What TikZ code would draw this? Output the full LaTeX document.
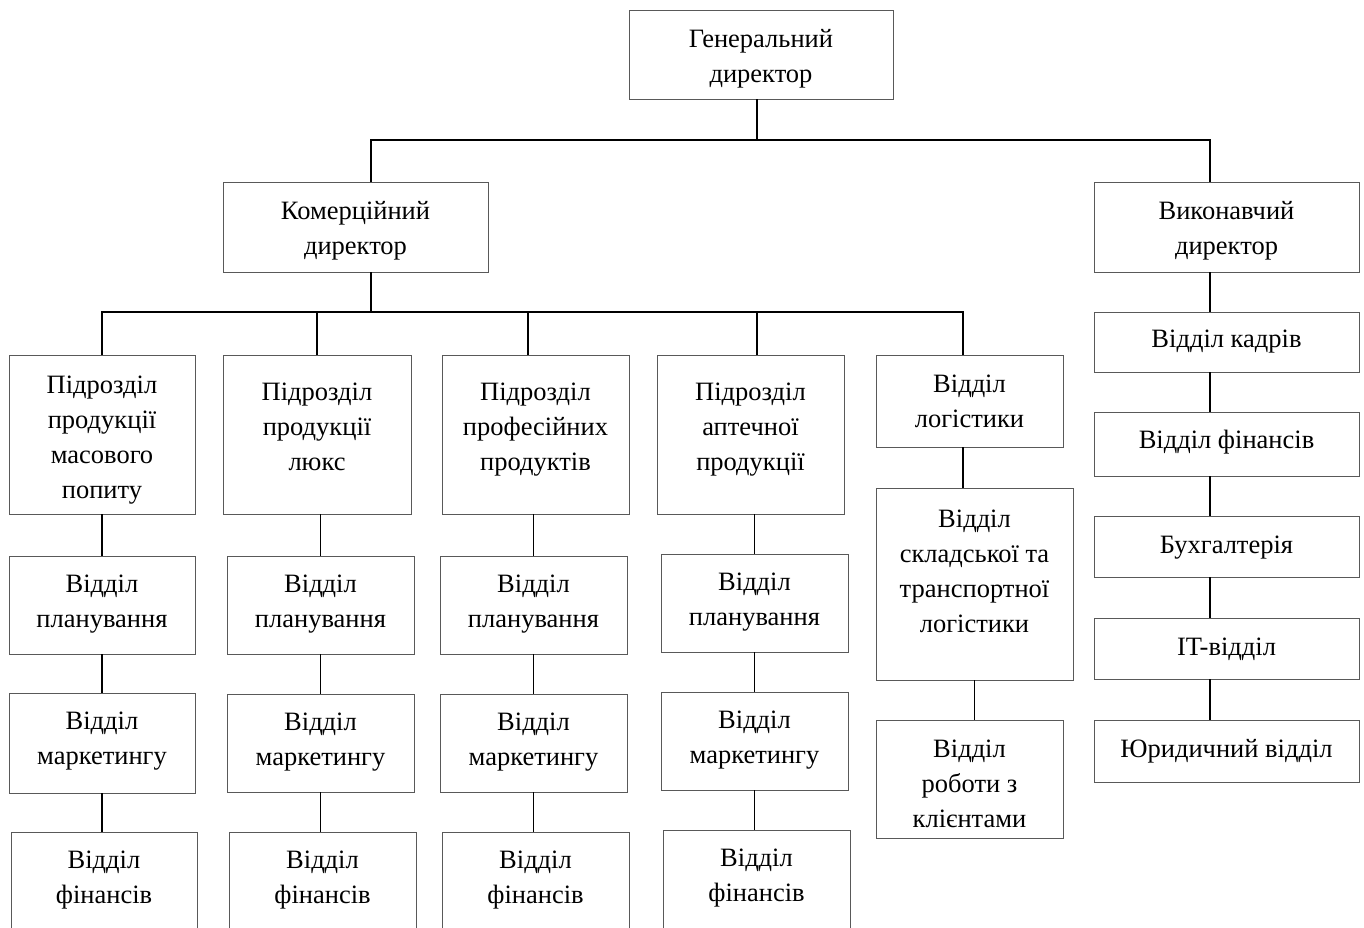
\documentclass[tikz,border=0pt]{standalone}
\usepackage{fontspec}
\setmainfont{Liberation Serif}
\tikzset{
  obox/.style={draw=black!65, line width=1pt, rectangle, inner sep=0pt, outer sep=0pt},
  lbl/.style={inner sep=0pt, outer sep=0pt, align=center, font=\fontsize{26.5}{35}\selectfont},
  conn/.style={draw=black, line width=1.5pt}
}
\newcommand\orgbox[7]{%
  \node[obox, minimum width={(#4-#2)*1pt}, minimum height={(#5-#3)*1pt}] (#1) at ({(#2+#4)/2},{(#3+#5)/2}) {};
  \node[lbl, anchor=north] (#1t) at ([yshift={-(#6-26)*1pt}]#1.north) {\rule{0pt}{26pt}#7};
}
\begin{document}
\begin{tikzpicture}[x=1pt, y=-1pt]
\useasboundingbox (0,0) rectangle (1364,927);
\clip (0,0) rectangle (1364,927);
\fill[white] (0,0) rectangle (1364,927);

\orgbox{gen}{629}{10}{893}{99}{37}{Генеральний\\директор}
\orgbox{kom}{223}{182}{488}{272}{37}{Комерційний\\директор}
\orgbox{vyk}{1094}{182}{1359}{272}{37}{Виконавчий\\директор}

\orgbox{p1}{9}{355}{195}{514}{38}{Підрозділ\\продукції\\масового\\попиту}
\orgbox{p2}{223}{355}{411}{514}{45}{Підрозділ\\продукції\\люкс}
\orgbox{p3}{442}{355}{629}{514}{45}{Підрозділ\\професійних\\продуктів}
\orgbox{p4}{657}{355}{844}{514}{45}{Підрозділ\\аптечної\\продукції}
\orgbox{lg}{876}{355}{1063}{447}{37}{Відділ\\логістики}
\orgbox{lgb}{876}{488}{1073}{680}{39}{Відділ\\складської та\\транспортної\\логістики}
\orgbox{lgc}{876}{720}{1063}{838}{37}{Відділ\\роботи з\\клієнтами}

\orgbox{k1}{1094}{312}{1359}{372}{35}{Відділ кадрів}
\orgbox{k2}{1094}{412}{1359}{476}{36}{Відділ фінансів}
\orgbox{k3}{1094}{516}{1359}{577}{37}{Бухгалтерія}
\orgbox{k4}{1094}{618}{1359}{679}{37}{IT-відділ}
\orgbox{k5}{1094}{720}{1359}{782}{37}{Юридичний відділ}

\orgbox{a1}{9}{556}{195}{654}{36}{Відділ\\планування}
\orgbox{a2}{9}{693}{195}{793}{36}{Відділ\\маркетингу}
\orgbox{a3}{11}{832}{197}{950}{36}{Відділ\\фінансів}
\orgbox{b1}{227}{556}{414}{654}{36}{Відділ\\планування}
\orgbox{b2}{227}{694}{414}{792}{36}{Відділ\\маркетингу}
\orgbox{b3}{229}{832}{416}{950}{36}{Відділ\\фінансів}
\orgbox{c1}{440}{556}{627}{654}{36}{Відділ\\планування}
\orgbox{c2}{440}{694}{627}{792}{36}{Відділ\\маркетингу}
\orgbox{c3}{442}{832}{629}{950}{36}{Відділ\\фінансів}
\orgbox{d1}{661}{554}{848}{652}{36}{Відділ\\планування}
\orgbox{d2}{661}{692}{848}{790}{36}{Відділ\\маркетингу}
\orgbox{d3}{663}{830}{850}{950}{36}{Відділ\\фінансів}

\coordinate (B1) at (0,140);
\coordinate (B2) at (0,312);
\coordinate (x371) at (371,0);
\coordinate (x757) at (757,0);
\coordinate (x1210) at (1210,0);
\coordinate (x528) at (528,0);
\coordinate (x963) at (963,0);

% top level
\draw[conn] (gen.south -| x757) -- (x757 |- B1);
\draw[conn] (kom.north -| x371) |- (x757 |- B1) -| (vyk.north -| x1210);
% commercial bus
\draw[conn] (kom.south -| x371) -- (x371 |- B2);
\draw[conn] (p1.north) |- (x371 |- B2) -| (lg.north -| x963);
\draw[conn] (p2.north) -- (p2.north |- B2);
\draw[conn] (p3.north -| x528) -- (x528 |- B2);
\draw[conn] (p4.north -| x757) -- (x757 |- B2);
% executive column
\draw[conn] (vyk.south -| x1210) -- (k1.north -| x1210);
\draw[conn] (k1.south -| x1210) -- (k2.north -| x1210);
\draw[conn] (k2.south -| x1210) -- (k3.north -| x1210);
\draw[conn] (k3.south -| x1210) -- (k4.north -| x1210);
\draw[conn] (k4.south -| x1210) -- (k5.north -| x1210);
% columns
\draw[conn] (p1.south) -- (a1.north);
\draw[conn] (a1.south) -- (a2.north);
\draw[conn] (a2.south) -- (a2.south |- a3.north);
\draw[conn] (b1.north |- p2.south) -- (b1.north);
\draw[conn] (b1.south) -- (b2.north);
\draw[conn] (b2.south) -- (b2.south |- b3.north);
\draw[conn] (c1.north |- p3.south) -- (c1.north);
\draw[conn] (c1.south) -- (c2.north);
\draw[conn] (c2.south) -- (c2.south |- c3.north);
\draw[conn] (d1.north |- p4.south) -- (d1.north);
\draw[conn] (d1.south) -- (d2.north);
\draw[conn] (d2.south) -- (d2.south |- d3.north);
% logistics
\draw[conn] (lg.south -| x963) -- (x963 |- lgb.north);
\draw[conn] (lgb.south) -- (lgb.south |- lgc.north);
\end{tikzpicture}
\end{document}
